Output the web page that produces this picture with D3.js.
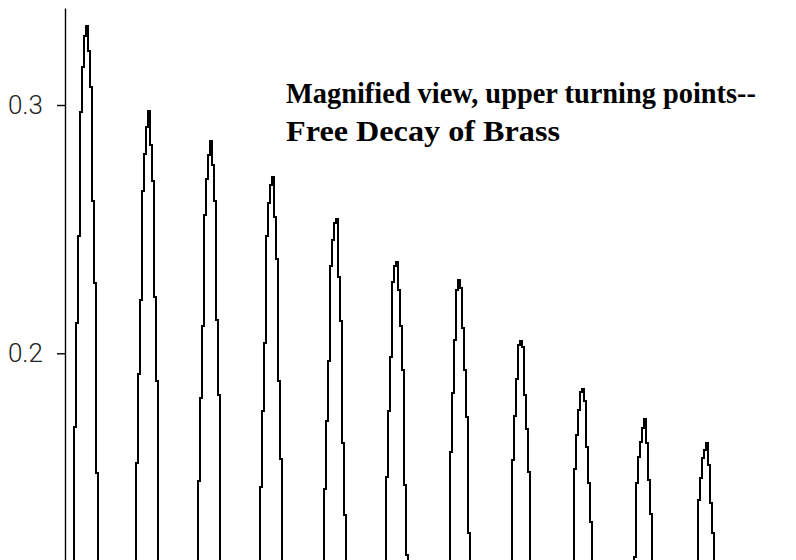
<!DOCTYPE html>
<html>
<head>
<meta charset="utf-8">
<script src="https://cdn.jsdelivr.net/npm/d3@7/dist/d3.min.js"></script>
<style>
  html, body { margin: 0; padding: 0; background: #fff; }
  svg { display: block; }
</style>
</head>
<body>
<svg id="chart" width="796" height="560"></svg>
<script>
// Free decay of a brass oscillator: displacement samples around each upper turning point.
const titleLines = ["Magnified view, upper turning points--", "Free Decay of Brass"];
const yTicks = [0.2, 0.3];

// Sample index at which each swing's listed samples begin (first and last samples sit below the window).
const swingStart = [-1, 30, 61, 92, 124, 155, 187, 218, 249, 279, 311];

const swing1  = [0.08, 0.1703, 0.2122, 0.2472, 0.2972, 0.3153, 0.3278, 0.3318, 0.3217, 0.3072, 0.2613, 0.2283, 0.1518, 0.08];
const swing2  = [0.08, 0.1558, 0.1917, 0.2215, 0.2654, 0.2803, 0.2911, 0.2976, 0.2839, 0.2694, 0.2227, 0.1888, 0.08];
const swing3  = [0.08, 0.1486, 0.1820, 0.2110, 0.2557, 0.2702, 0.2799, 0.2855, 0.2758, 0.2613, 0.2134, 0.1832, 0.08];
const swing4  = [0.08, 0.1462, 0.1768, 0.2041, 0.2472, 0.2605, 0.2678, 0.2710, 0.2549, 0.2380, 0.1888, 0.1574, 0.08];
const swing5  = [0.08, 0.1453, 0.1727, 0.1969, 0.2352, 0.2456, 0.2525, 0.2541, 0.2307, 0.2130, 0.1639, 0.1349, 0.08];
const swing6  = [0.08, 0.1502, 0.1768, 0.1985, 0.2287, 0.2352, 0.2368, 0.2255, 0.2110, 0.1933, 0.1470, 0.1188, 0.08];
const swing7  = [0.08, 0.1602, 0.1840, 0.2054, 0.2255, 0.2295, 0.2263, 0.2102, 0.1933, 0.1743, 0.1276, 0.08];
const swing8  = [0.08, 0.1570, 0.1747, 0.1897, 0.2033, 0.2050, 0.2025, 0.1832, 0.1695, 0.1522, 0.08];
const swing9  = [0.08, 0.1534, 0.1671, 0.1772, 0.1844, 0.1856, 0.1808, 0.1623, 0.1478, 0.1321, 0.08];
const swing10 = [0.08, 0.1180, 0.1478, 0.1582, 0.1643, 0.1699, 0.1735, 0.1639, 0.1490, 0.1353, 0.08];
const swing11 = [0.08, 0.1409, 0.1498, 0.1578, 0.1611, 0.1639, 0.1550, 0.1397, 0.1276, 0.08];

const swings = [swing1, swing2, swing3, swing4, swing5, swing6, swing7, swing8, swing9, swing10, swing11];

const W = 796, H = 560;
const axisX = 65;

const svg = d3.select("#chart");
svg.append("rect").attr("width", W).attr("height", H).attr("fill", "#fff");

// Sample index -> horizontal position; displacement -> vertical position.
const x = d3.scaleLinear().domain([-4.35, 361.15]).range([axisX, W]);
const y = d3.scaleLinear().domain([0.11675, 0.33907]).range([H, 8]);

svg.append("defs").append("clipPath").attr("id", "plot-clip")
  .append("rect").attr("x", axisX).attr("y", 0).attr("width", W - axisX).attr("height", H);

const points = [];
swings.forEach((vals, s) => {
  vals.forEach((v, k) => points.push({ i: swingStart[s] + k, v }));
});

const line = d3.line()
  .x(d => x(d.i))
  .y(d => y(d.v))
  .curve(d3.curveStepAfter);

svg.append("path")
  .datum(points)
  .attr("clip-path", "url(#plot-clip)")
  .attr("d", line)
  .attr("fill", "none")
  .attr("stroke", "#000")
  .attr("stroke-width", 2)
  .attr("shape-rendering", "crispEdges");

// Vertical axis
const yAxis = d3.axisLeft(y)
  .tickValues(yTicks)
  .tickFormat(d3.format(".1f"))
  .tickSize(8)
  .tickSizeOuter(0)
  .tickPadding(14);

const gy = svg.append("g")
  .attr("transform", `translate(${axisX},0)`)
  .call(yAxis);

gy.select(".domain").attr("stroke", "#000").attr("stroke-width", 1.4);
gy.selectAll(".tick line").attr("stroke", "#000").attr("stroke-width", 1.4);
gy.selectAll(".tick text")
  .attr("fill", "#222")
  .style("font-family", "Roboto, 'Liberation Sans', sans-serif")
  .style("font-weight", 300)
  .style("font-size", "26px");

// Title, two lines set to their printed widths
const titleWidths = [470, 274];
svg.selectAll("text.title")
  .data(titleLines)
  .join("text")
  .attr("class", "title")
  .attr("x", 286)
  .attr("y", (d, i) => 103 + i * 38)
  .attr("textLength", (d, i) => titleWidths[i])
  .attr("lengthAdjust", "spacingAndGlyphs")
  .attr("fill", "#000")
  .style("font-family", "'Liberation Serif', 'Times New Roman', serif")
  .style("font-weight", "bold")
  .style("font-size", "30px")
  .text(d => d);
</script>
</body>
</html>
